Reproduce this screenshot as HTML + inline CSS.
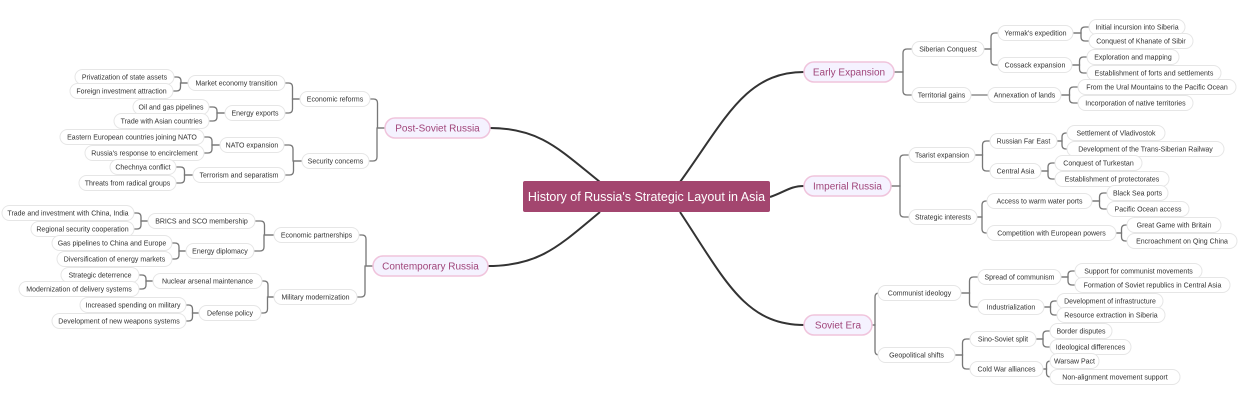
<!DOCTYPE html>
<html><head><meta charset="utf-8"><style>
html,body{margin:0;padding:0;background:#fff;}
svg{display:block;font-family:"Liberation Sans",sans-serif;}
</style></head><body>
<svg id="s" width="1240" height="400" viewBox="0 0 1240 400" xmlns="http://www.w3.org/2000/svg"></svg>
<script>
const s=document.getElementById('s');const NS='http://www.w3.org/2000/svg';
function el(t,a,txt){const e=document.createElementNS(NS,t);for(const k in a)e.setAttribute(k,a[k]);if(txt)e.textContent=txt;s.appendChild(e);return e;}
// [id,label,x1,x2,cy,parent,side]
const N=[
['ee','Early Expansion',804,894,72,'root','R'],
['ir','Imperial Russia',804,891,186,'root','R'],
['se','Soviet Era',804,872,325,'root','R'],
['ps','Post-Soviet Russia',385,490,128,'root','L'],
['cr','Contemporary Russia',373,488,266,'root','L'],
['a1','Siberian Conquest',912,984,49,'ee','R'],
['a2','Territorial gains',912,971,95,'ee','R'],
['a11',"Yermak's expedition",998,1073,33,'a1','R'],
['a12','Cossack expansion',998,1072,65,'a1','R'],
['a21','Annexation of lands',988,1061,95,'a2','R'],
['x','Initial incursion into Siberia',1089,1185,27,'a11','R'],
['x','Conquest of Khanate of Sibir',1089,1193,41,'a11','R'],
['x','Exploration and mapping',1087,1179,57,'a12','R'],
['x','Establishment of forts and settlements',1087,1221,73,'a12','R'],
['x','From the Ural Mountains to the Pacific Ocean',1078,1236,87,'a21','R'],
['x','Incorporation of native territories',1078,1193,103,'a21','R'],
['b1','Tsarist expansion',909,975,155,'ir','R'],
['b2','Strategic interests',909,977,217,'ir','R'],
['b11','Russian Far East',990,1057,141,'b1','R'],
['b12','Central Asia',990,1041,171,'b1','R'],
['b21','Access to warm water ports',987,1092,201,'b2','R'],
['b22','Competition with European powers',987,1116,233,'b2','R'],
['x','Settlement of Vladivostok',1067,1165,133,'b11','R'],
['x','Development of the Trans-Siberian Railway',1067,1224,149,'b11','R'],
['x','Conquest of Turkestan',1055,1142,163,'b12','R'],
['x','Establishment of protectorates',1055,1169,179,'b12','R'],
['x','Black Sea ports',1107,1168,193,'b21','R'],
['x','Pacific Ocean access',1107,1189,209,'b21','R'],
['x','Great Game with Britain',1127,1221,225,'b22','R'],
['x','Encroachment on Qing China',1127,1237,241,'b22','R'],
['c1','Communist ideology',878,961,293,'se','R'],
['c2','Geopolitical shifts',878,955,355,'se','R'],
['c11','Spread of communism',978,1061,277,'c1','R'],
['c12','Industrialization',978,1044,307,'c1','R'],
['c21','Sino-Soviet split',970,1036,339,'c2','R'],
['c22','Cold War alliances',970,1043,369,'c2','R'],
['x','Support for communist movements',1075,1202,271,'c11','R'],
['x','Formation of Soviet republics in Central Asia',1075,1230,285,'c11','R'],
['x','Development of infrastructure',1057,1163,301,'c12','R'],
['x','Resource extraction in Siberia',1057,1165,315,'c12','R'],
['x','Border disputes',1050,1112,331,'c21','R'],
['x','Ideological differences',1050,1131,347,'c21','R'],
['x','Warsaw Pact',1050,1099,361,'c22','R'],
['x','Non-alignment movement support',1050,1180,377,'c22','R'],
['d1','Economic reforms',300,370,99,'ps','L'],
['d2','Security concerns',302,369,161,'ps','L'],
['d11','Market economy transition',188,285,83,'d1','L'],
['d12','Energy exports',225,285,113,'d1','L'],
['d21','NATO expansion',220,284,145,'d2','L'],
['d22','Terrorism and separatism',193,285,175,'d2','L'],
['x','Privatization of state assets',75,174,77,'d11','L'],
['x','Foreign investment attraction',70,173,91,'d11','L'],
['x','Oil and gas pipelines',133,209,107,'d12','L'],
['x','Trade with Asian countries',114,209,121,'d12','L'],
['x','Eastern European countries joining NATO',60,204,137,'d21','L'],
['x',"Russia's response to encirclement",85,204,153,'d21','L'],
['x','Chechnya conflict',110,176,167,'d22','L'],
['x','Threats from radical groups',79,176,183,'d22','L'],
['e1','Economic partnerships',274,359,235,'cr','L'],
['e2','Military modernization',274,357,297,'cr','L'],
['e11','BRICS and SCO membership',148,255,221,'e1','L'],
['e12','Energy diplomacy',186,254,251,'e1','L'],
['e21','Nuclear arsenal maintenance',153,262,281,'e2','L'],
['e22','Defense policy',199,261,313,'e2','L'],
['x','Trade and investment with China, India',2,134,213,'e11','L'],
['x','Regional security cooperation',31,134,229,'e11','L'],
['x','Gas pipelines to China and Europe',52,172,243,'e12','L'],
['x','Diversification of energy markets',57,172,259,'e12','L'],
['x','Strategic deterrence',61,139,275,'e21','L'],
['x','Modernization of delivery systems',19,139,289,'e21','L'],
['x','Increased spending on military',80,186,305,'e22','L'],
['x','Development of new weapons systems',52,186,321,'e22','L'],
];
const M={};N.forEach(n=>{if(n[0]!=='x')M[n[0]]=n;});
// root curves
const rc=[['M680,182 C725,120 745,72 804,72'],['M770,197 C785,192 790,186 804,186'],['M680,212 C725,280 745,325 804,325'],['M600,182 C560,150 540,128 490,128'],['M600,212 C560,245 540,266 488,266']];
rc.forEach(p=>el('path',{d:p[0],fill:'none',stroke:'#333',"stroke-width":2}));
// brackets
N.forEach(n=>{if(n[5]==='root')return;const p=M[n[5]];const R=n[6]==='R';
 const px=R?p[3]:p[2],py=p[4],cx=R?n[2]:n[3],cy=n[4];const m=(px+cx)/2;const r=Math.min(4,Math.abs(cy-py));const d=R?1:-1;
 let path=`M${px},${py} H${m} `;
 if(Math.abs(cy-py)<1)path+=`H${cx}`;else{const sg=cy>py?1:-1;path+=`V${cy-sg*r} Q${m},${cy} ${m+d*r},${cy} H${cx}`;}
 el('path',{d:path,fill:'none',stroke:'#777',"stroke-width":1.3});});
// nodes
N.forEach(n=>{const main=n[5]==='root';const h=main?20:15;const w=n[3]-n[2];
 el('rect',{x:n[2],y:n[4]-h/2,width:w,height:h,rx:h/2,fill:main?'#f5f2ff':'#fff',stroke:main?'#f0c4dc':'#e6e6e6',"stroke-width":main?1.5:1});
 el('text',{x:(n[2]+n[3])/2,y:n[4]+(main?3.5:2.5),"text-anchor":"middle","font-size":main?10:7,fill:main?'#a0457a':'#333'},n[1]);});
el('rect',{x:523,y:181,width:247,height:31,rx:2,fill:'#a3466f'});
el('text',{x:646.5,y:201,"text-anchor":"middle","font-size":12.5,fill:'#fff'},"History of Russia's Strategic Layout in Asia");
</script>
</body></html>
